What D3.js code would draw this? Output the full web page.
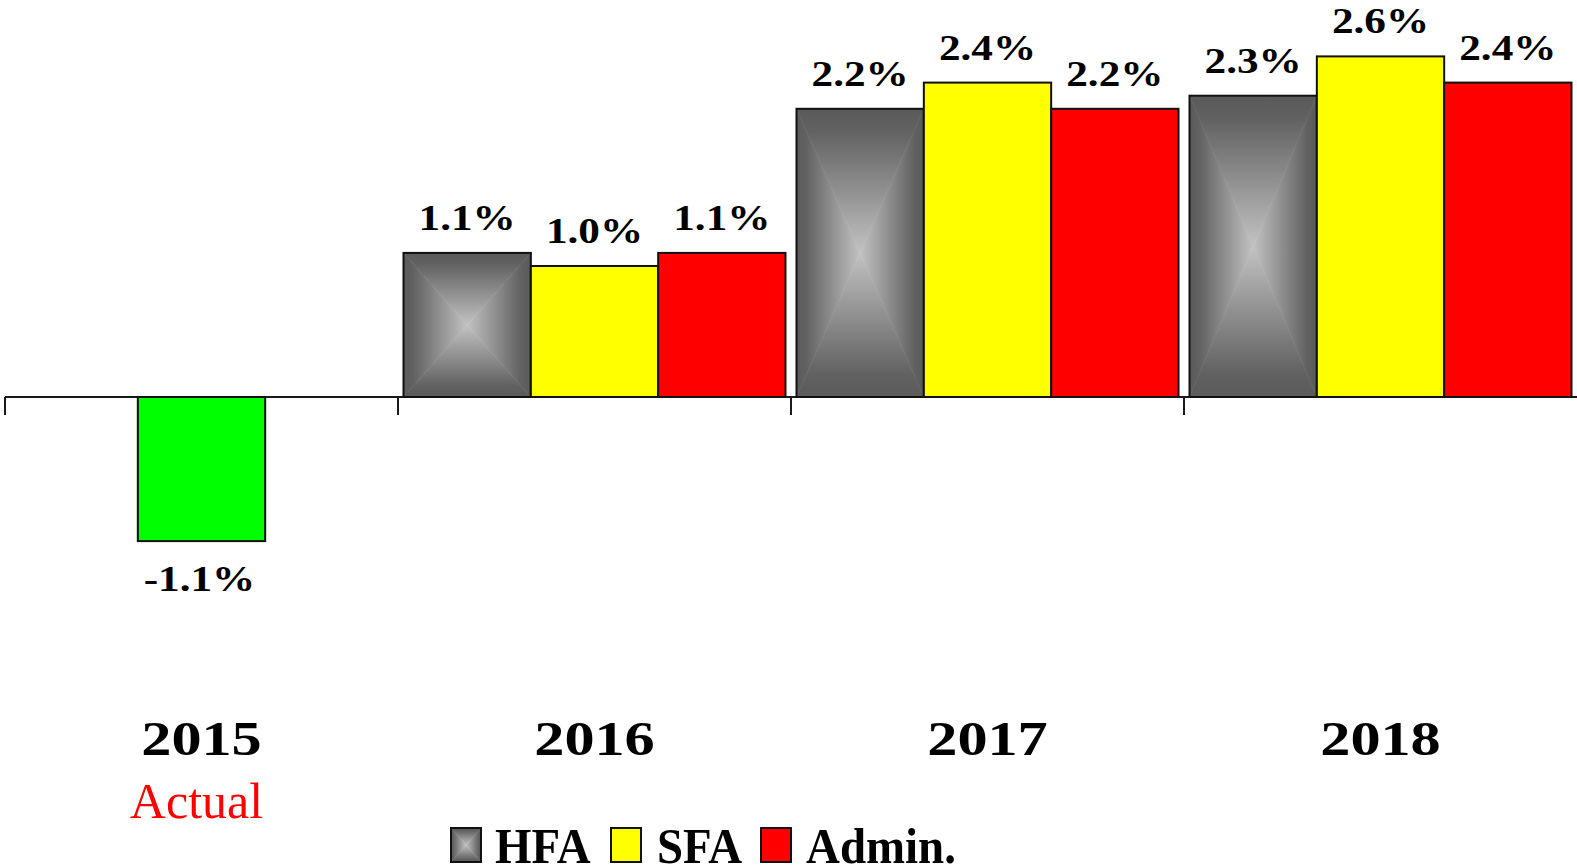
<!DOCTYPE html>
<html>
<head>
<meta charset="utf-8">
<script src="https://cdn.jsdelivr.net/npm/d3@7"></script>
<style>
  html, body { margin: 0; padding: 0; background: #fff; overflow: hidden; }
  text { font-family: "Liberation Serif", "Times New Roman", serif; }
</style>
</head>
<body>
<div id="chart"></div>
<script>
// chart data
const years = ["2015", "2016", "2017", "2018"];
const subLabels = ["Actual", "", "", ""];
const series = ["HFA", "SFA", "Admin."];
const hfaValues = [null, 1.1, 2.2, 2.3];
const sfaValues = [null, 1.0, 2.4, 2.6];
const adminValues = [null, 1.1, 2.2, 2.4];
const actualValues = [-1.1, null, null, null];

const seriesColors = { "HFA": "url(#boxGrad)", "SFA": "#ffff00", "Admin.": "#ff0000" };
const actualColor = "#00ff00";

const width = 1577, height = 868;

const svg = d3.select("#chart")
    .append("svg")
    .attr("width", width)
    .attr("height", height);

const defs = svg.append("defs");
const dark = "#5a5a5a", mid = "#8e8e8e", light = "#c2c2c2";
const gradDefs = [
    { id: "gTop", x1: 0, y1: 0, x2: 0, y2: 1 },
    { id: "gBottom", x1: 0, y1: 1, x2: 0, y2: 0 },
    { id: "gLeft", x1: 0, y1: 0, x2: 1, y2: 0 },
    { id: "gRight", x1: 1, y1: 0, x2: 0, y2: 0 }
];
gradDefs.forEach(g => {
    const lg = defs.append("linearGradient")
        .attr("id", g.id)
        .attr("x1", g.x1).attr("y1", g.y1)
        .attr("x2", g.x2).attr("y2", g.y2);
    lg.append("stop").attr("offset", "0%").attr("stop-color", dark);
    lg.append("stop").attr("offset", "15%").attr("stop-color", "#616161");
    lg.append("stop").attr("offset", "55%").attr("stop-color", mid);
    lg.append("stop").attr("offset", "100%").attr("stop-color", light);
});

const x = d3.scaleBand()
    .domain(years)
    .range([5, 1577]);

const bw = x.bandwidth();
const x1 = d3.scaleBand()
    .domain(series)
    .range([5.5, bw - 5.5]);

const y = d3.scaleLinear()
    .domain([0, 1])
    .range([397, 266]);

// "box" gradient: four triangles shading towards the centre
const boxGradient = (g, bx, by, w, h) => {
    const cx = bx + w / 2, cy = by + h / 2;
    const tris = [
        { id: "gTop", pts: [[bx, by], [bx + w, by], [cx, cy]] },
        { id: "gBottom", pts: [[bx, by + h], [bx + w, by + h], [cx, cy]] },
        { id: "gLeft", pts: [[bx, by], [bx, by + h], [cx, cy]] },
        { id: "gRight", pts: [[bx + w, by], [bx + w, by + h], [cx, cy]] }
    ];
    tris.forEach(t => {
        g.append("path")
            .attr("d", "M" + t.pts.map(p => p.join(",")).join("L") + "Z")
            .attr("fill", "url(#" + t.id + ")")
            .attr("stroke", "url(#" + t.id + ")")
            .attr("stroke-width", 0.6);
    });
};

// axis line and ticks at the category boundaries
const axisY = y(0);
svg.append("line")
    .attr("x1", x.range()[0]).attr("x2", x.range()[1])
    .attr("y1", axisY).attr("y2", axisY)
    .attr("stroke", "#1a1a1a").attr("stroke-width", 2);

svg.selectAll(".tick")
    .data(years)
    .join("line")
    .attr("class", "tick")
    .attr("x1", d => x(d)).attr("x2", d => x(d))
    .attr("y1", axisY).attr("y2", axisY + 18)
    .attr("stroke", "#1a1a1a").attr("stroke-width", 2);

const valueLabel = (cx, baseline, txt) => {
    svg.append("text")
        .attr("transform", `translate(${cx},${baseline}) scale(1.2,1)`)
        .attr("text-anchor", "middle")
        .style("font-size", "36px")
        .style("font-weight", "700")
        .attr("fill", "#000")
        .text(txt);
};

const seriesValues = { "HFA": hfaValues, "SFA": sfaValues, "Admin.": adminValues };

years.forEach((yr, i) => {
    series.forEach(s => {
        const v = seriesValues[s][i];
        if (v === null) return;
        const bx = x(yr) + x1(s);
        const top = y(v);
        const h = axisY - top;
        const g = svg.append("g");
        if (s === "HFA") {
            boxGradient(g, bx, top, x1.bandwidth(), h);
            g.append("rect")
                .attr("x", bx).attr("y", top)
                .attr("width", x1.bandwidth()).attr("height", h)
                .attr("fill", "none")
                .attr("stroke", "#111").attr("stroke-width", 2);
        } else {
            g.append("rect")
                .attr("x", bx).attr("y", top)
                .attr("width", x1.bandwidth()).attr("height", h)
                .attr("fill", seriesColors[s])
                .attr("stroke", "#111").attr("stroke-width", 2);
        }
        valueLabel(bx + x1.bandwidth() / 2, top - 23, v.toFixed(1) + "%");
    });

    const a = actualValues[i];
    if (a !== null) {
        const bx = x(yr) + x1("SFA");
        svg.append("rect")
            .attr("x", bx).attr("y", axisY)
            .attr("width", x1.bandwidth()).attr("height", y(a) - axisY)
            .attr("fill", actualColor)
            .attr("stroke", "#111").attr("stroke-width", 2);
        valueLabel(bx + x1.bandwidth() / 2 - 2, y(a) + 50, a.toFixed(1) + "%");
    }
});

// year labels
svg.selectAll(".year")
    .data(years)
    .join("text")
    .attr("class", "year")
    .attr("transform", d => `translate(${x(d) + bw / 2},755) scale(1.23,1)`)
    .attr("text-anchor", "middle")
    .style("font-size", "49px")
    .style("font-weight", "700")
    .text(d => d);

svg.selectAll(".sub")
    .data(subLabels)
    .join("text")
    .attr("class", "sub")
    .attr("x", (d, i) => x(years[i]) + bw / 2 - 5)
    .attr("y", 818)
    .attr("text-anchor", "middle")
    .style("font-size", "50px")
    .attr("fill", "#ff0000")
    .text(d => d);

// legend
const legendX = [451, 611, 761];
const legendTextX = [495, 657, 806];
series.forEach((s, i) => {
    const g = svg.append("g");
    if (s === "HFA") {
        boxGradient(g, legendX[i], 828, 30, 34);
        g.append("rect")
            .attr("x", legendX[i]).attr("y", 828)
            .attr("width", 30).attr("height", 34)
            .attr("fill", "none")
            .attr("stroke", "#111").attr("stroke-width", 2);
    } else {
        g.append("rect")
            .attr("x", legendX[i]).attr("y", 828)
            .attr("width", 30).attr("height", 34)
            .attr("fill", seriesColors[s])
            .attr("stroke", "#111").attr("stroke-width", 2);
    }
    svg.append("text")
        .attr("transform", `translate(${legendTextX[i]},863) scale(0.92,1)`)
        .style("font-size", "51px")
        .style("font-weight", "700")
        .text(s);
});
</script>
</body>
</html>
